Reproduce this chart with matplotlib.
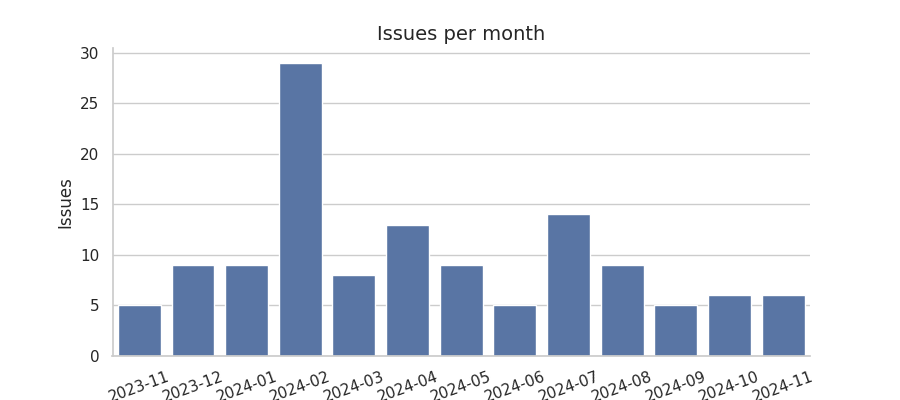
import matplotlib
matplotlib.use("Agg")
import matplotlib.pyplot as plt
import seaborn as sns

months = ["2023-11", "2023-12", "2024-01", "2024-02", "2024-03", "2024-04", "2024-05",
          "2024-06", "2024-07", "2024-08", "2024-09", "2024-10", "2024-11"]
issues = [5, 9, 9, 29, 8, 13, 9, 5, 14, 9, 5, 6, 6]

sns.set_theme(style="whitegrid")
fig, ax = plt.subplots(figsize=(9, 4), dpi=100)
sns.barplot(x=months, y=issues, color="#4c72b0", ax=ax)
ax.set_title("Issues per month", fontsize=14)
ax.set_xlabel("")
ax.set_ylabel("Issues")
plt.setp(ax.get_xticklabels(), rotation=20)
sns.despine(ax=ax)
fig.savefig("out.png", dpi=100)
